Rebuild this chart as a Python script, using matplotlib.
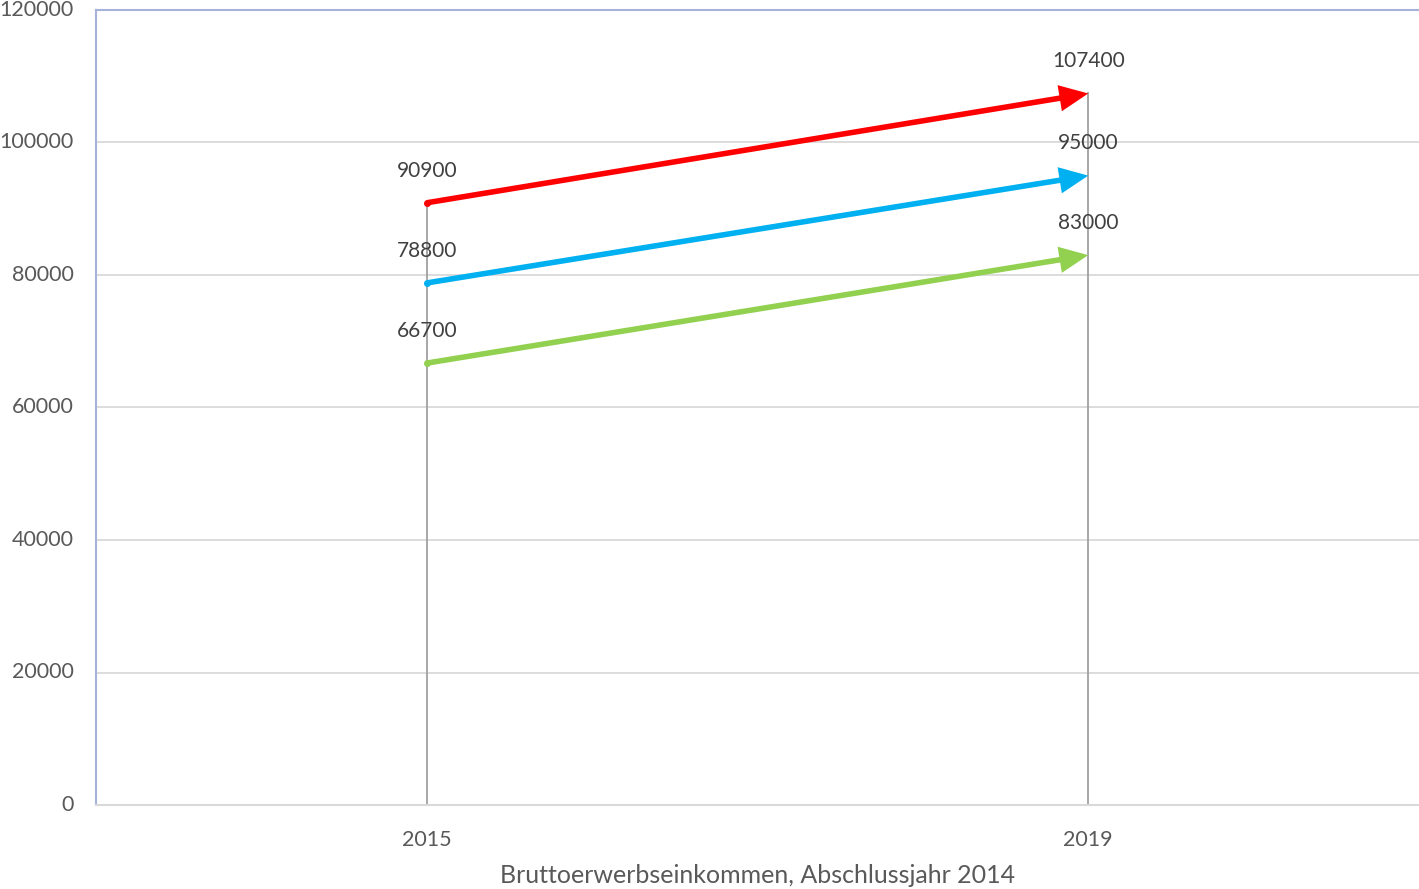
import matplotlib.pyplot as plt

# data
years = ['2015', '2019']
upper = [90900, 107400]
middle = [78800, 95000]
lower = [66700, 83000]
colors = ['#FF0000', '#00B0F0', '#92D050']
yticks = [0, 20000, 40000, 60000, 80000, 100000, 120000]

plt.rcParams['font.family'] = ['Lato', 'DejaVu Sans']

fig = plt.figure(figsize=(14.19, 8.89), dpi=100)
ax = fig.add_axes([96/1419, 1 - 805/889, 1 - 96/1419, (805 - 10)/889])

x = list(range(len(years)))
series = [upper, middle, lower]

# drop lines
top = [max(v) for v in zip(*series)]
for xi, t in zip(x, top):
    ax.plot([xi, xi], [0, t], color='#A0A0A0', lw=1.3, zorder=2)

for vals, c in zip(series, colors):
    ax.annotate('', xy=(x[1], vals[1]), xytext=(x[0], vals[0]),
                arrowprops=dict(arrowstyle='-|>,head_length=0.7,head_width=0.32',
                                color=c, lw=4, shrinkA=0, shrinkB=0,
                                mutation_scale=20, joinstyle='miter',
                                capstyle='butt'),
                zorder=3)
    ax.plot(x[0], vals[0], 'o', color=c, ms=4, zorder=3)
    for xi, v in zip(x, vals):
        ax.annotate(str(v), (xi, v), xytext=(0, 16), textcoords='offset points',
                    ha='center', va='bottom', fontsize=15, color='#404040')

ax.set_xlim(-0.5, 1.5)
ax.set_ylim(0, 120000)
ax.set_yticks(yticks)
ax.set_xticks(x)
ax.set_xticklabels(years)
ax.tick_params(length=0, labelsize=15.5, labelcolor='#595959')
ax.tick_params(axis='x', pad=18)
ax.tick_params(axis='y', pad=16)
for lab in ax.get_yticklabels():
    lab.set_va('center')

ax.grid(axis='y', color='#D9D9D9', lw=1.3)
ax.set_axisbelow(True)
ax.spines['left'].set_color('#A5B3DA')
ax.spines['left'].set_linewidth(1.5)
ax.spines['top'].set_color('#A5B3DA')
ax.spines['top'].set_linewidth(1.5)
ax.spines['bottom'].set_color('#D9D9D9')
ax.spines['bottom'].set_linewidth(1.5)
ax.spines['right'].set_visible(False)

ax.set_xlabel('Bruttoerwerbseinkommen, Abschlussjahr 2014', fontsize=18,
              color='#595959', labelpad=10)

fig.savefig('out.png', dpi=100)
